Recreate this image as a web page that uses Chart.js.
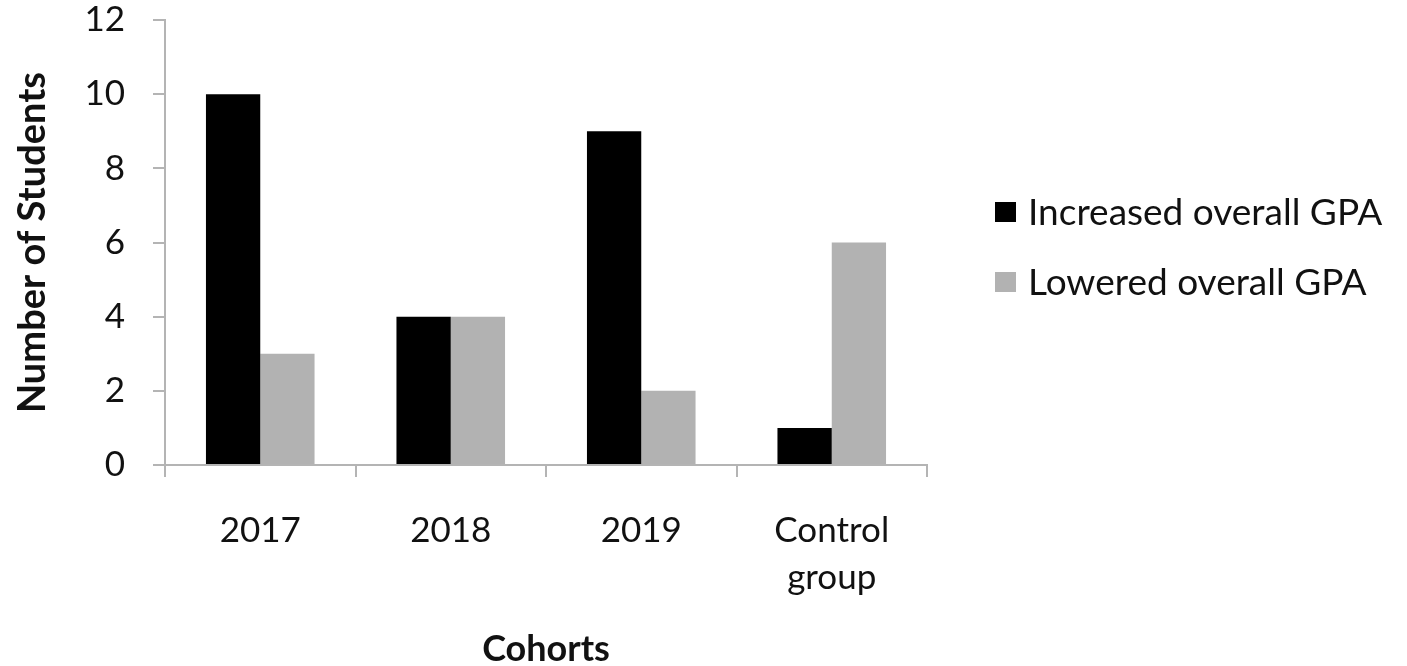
<!DOCTYPE html>
<html>
<head>
<meta charset="utf-8">
<script src="https://cdn.jsdelivr.net/npm/chart.js@4"></script>
<style>
  html, body { margin: 0; padding: 0; background: #ffffff; }
  #wrap { width: 1407px; height: 666px; }
</style>
</head>
<body>
<div id="wrap"><canvas id="c" width="1407" height="666"></canvas></div>
<script>
const categories = ['2017', '2018', '2019', ['Control', 'group']];
const increasedGPA = [10, 4, 9, 1];
const loweredGPA = [3, 4, 2, 6];
const seriesNames = ['Increased overall GPA', 'Lowered overall GPA'];
const yTicks = [0, 2, 4, 6, 8, 10, 12];

const FONT = 'Lato, "Open Sans", sans-serif';
const AXIS = '#b4b4b4';

const sideLegend = {
  id: 'sideLegend',
  afterDraw(chart) {
    const ctx = chart.ctx;
    const area = chart.chartArea;
    const x0 = area.right + 68;
    const yc = [area.top + 192, area.top + 262];
    ctx.save();
    ctx.font = '37px ' + FONT;
    ctx.textBaseline = 'middle';
    ctx.textAlign = 'left';
    chart.data.datasets.forEach((ds, i) => {
      ctx.fillStyle = ds.backgroundColor;
      ctx.fillRect(x0, yc[i] - 10, 21, 20);
      ctx.fillStyle = '#111111';
      ctx.fillText(ds.label, x0 + 33, yc[i] + 1);
    });
    ctx.restore();
  }
};

new Chart(document.getElementById('c'), {
  type: 'bar',
  data: {
    labels: categories,
    datasets: [
      { label: seriesNames[0], data: increasedGPA, backgroundColor: '#000000', borderWidth: 0 },
      { label: seriesNames[1], data: loweredGPA, backgroundColor: '#b2b2b2', borderWidth: 0 }
    ]
  },
  options: {
    responsive: false,
    animation: false,
    devicePixelRatio: 1,
    layout: { padding: { left: 0, right: 480, top: 0, bottom: 0 } },
    datasets: { bar: { barPercentage: 1.0, categoryPercentage: 0.57 } },
    plugins: { legend: { display: false }, tooltip: { enabled: false } },
    scales: {
      x: {
        afterFit(scale) { scale.height = 201; },
        grid: { display: true, drawOnChartArea: false, drawTicks: true, tickLength: 12, color: AXIS, lineWidth: 2, offset: true },
        border: { display: true, color: AXIS, width: 2 },
        ticks: { color: '#111111', font: { family: FONT, size: 35, lineHeight: 1.35 }, padding: 30, maxRotation: 0 },
        title: { display: true, text: 'Cohorts', color: '#111111', font: { family: FONT, size: 36, weight: 'bold', lineHeight: 0.9 }, padding: { top: 0, bottom: 0 } }
      },
      y: {
        min: 0, max: 12,
        afterBuildTicks(scale) { scale.ticks = yTicks.map(v => ({ value: v })); },
        afterFit(scale) { scale.width = 165; scale.paddingTop = 20; scale.paddingBottom = 0; },
        grid: { display: true, drawOnChartArea: false, drawTicks: true, tickLength: 12, color: AXIS, lineWidth: 2 },
        border: { display: true, color: AXIS, width: 2 },
        ticks: { color: '#111111', font: { family: FONT, size: 35 }, padding: 28 },
        title: { display: true, text: 'Number of Students', color: '#111111', font: { family: FONT, size: 38, weight: 'bold' }, padding: { top: 10, bottom: 0 } }
      }
    }
  },
  plugins: [sideLegend]
});
</script>
</body>
</html>
